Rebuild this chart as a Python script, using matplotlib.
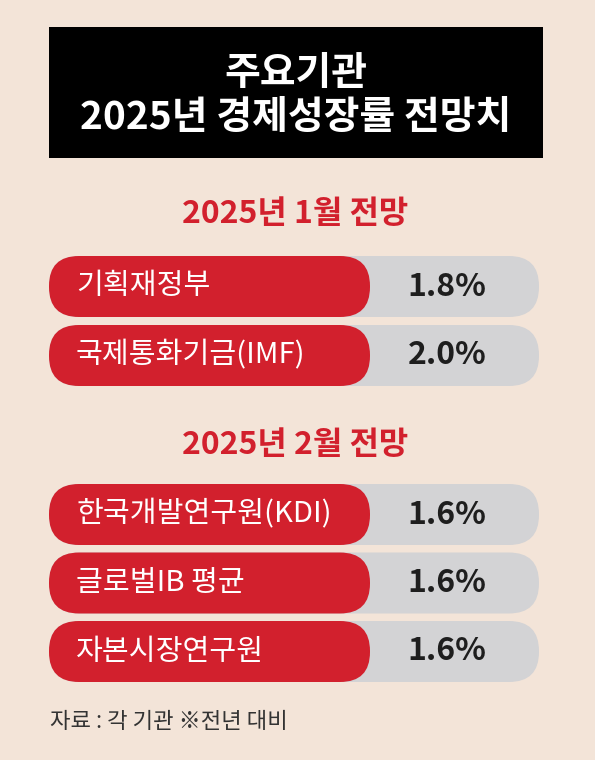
import matplotlib.pyplot as plt
from matplotlib.patches import FancyBboxPatch, Rectangle

plt.rcParams['font.family'] = ['Noto Sans CJK KR', 'DejaVu Sans']

title_lines = ["주요기관", "2025년 경제성장률 전망치"]
section_titles = ["2025년 1월 전망", "2025년 2월 전망"]
section_1_labels = ["기획재정부", "국제통화기금(IMF)"]
section_1_values = [1.8, 2.0]
section_2_labels = ["한국개발연구원(KDI)", "글로벌IB 평균", "자본시장연구원"]
section_2_values = [1.6, 1.6, 1.6]
source_note = "자료 : 각 기관 ※전년 대비"

BG = "#f3e4d8"
RED = "#d2202d"
GRAY = "#d3d3d5"
DARK = "#1e1e1e"

fig = plt.figure(figsize=(5.95, 7.6), dpi=100)
fig.patch.set_facecolor(BG)
ax = fig.add_axes([0, 0, 1, 1])
ax.set_xlim(0, 595)
ax.set_ylim(760, 0)
ax.axis("off")

# title block
ax.add_patch(Rectangle((49, 27), 494, 131, facecolor="black", edgecolor="none"))
ax.text(296, 73, title_lines[0], color="white", fontsize=28, fontweight="heavy",
        ha="center", va="center")
ax.text(296, 117, title_lines[1], color="white", fontsize=28, fontweight="heavy",
        ha="center", va="center")


def draw_row(y_top, label, value):
    h = 61
    ax.add_patch(FancyBboxPatch((49, y_top), 490, h,
                                boxstyle="round,pad=0,rounding_size=30",
                                facecolor=GRAY, edgecolor="none"))
    ax.add_patch(FancyBboxPatch((49, y_top), 321, h,
                                boxstyle="round,pad=0,rounding_size=30",
                                facecolor=RED, edgecolor="none"))
    ax.text(76, y_top + h / 2, label, color="white", fontsize=21,
            ha="left", va="center")
    ax.text(447, y_top + h / 2, f"{value:.1f}%", color=DARK, fontsize=23,
            fontweight="heavy", ha="center", va="center")


ax.text(295, 214, section_titles[0], color=RED, fontsize=23, fontweight="heavy",
        ha="center", va="center")
for i, (lab, val) in enumerate(zip(section_1_labels, section_1_values)):
    draw_row(256 + i * 69, lab, val)

ax.text(295, 445, section_titles[1], color=RED, fontsize=23, fontweight="heavy",
        ha="center", va="center")
for i, (lab, val) in enumerate(zip(section_2_labels, section_2_values)):
    draw_row(484 + i * 68.5, lab, val)

ax.text(50, 722, source_note, color="#333333", fontsize=16, ha="left", va="center")

fig.savefig("out.png", dpi=100, facecolor=BG)
